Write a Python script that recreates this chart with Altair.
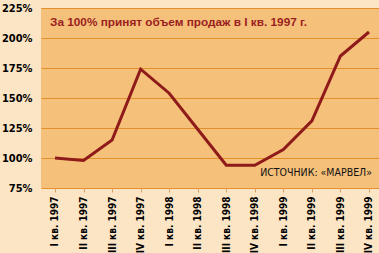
import altair as alt
import pandas as pd

quarters = ["I кв. 1997", "II кв. 1997", "III кв. 1997", "IV кв. 1997",
            "I кв. 1998", "II кв. 1998", "III кв. 1998", "IV кв. 1998",
            "I кв. 1999", "II кв. 1999", "III кв. 1999", "IV кв. 1999"]
values = [100, 98, 115, 174, 154, 124, 94, 94, 107, 131, 185, 205]
y_ticks = [75, 100, 125, 150, 175, 200, 225]
note_text = ["За 100% принят объем продаж в I кв. 1997 г."]
source_text = ["ИСТОЧНИК: «МАРВЕЛ»"]

df = pd.DataFrame({"i": list(range(len(quarters))), "q": quarters, "v": values})

label_expr = "[" + ",".join(f"'{q}'" for q in quarters) + "][datum.value]"

FONT = "Liberation Sans Narrow, DejaVu Sans Condensed, Arial Narrow, sans-serif"

x = alt.X("i:Q", scale=alt.Scale(domain=[-0.49, 11.351], nice=False, zero=False),
          axis=alt.Axis(values=list(range(12)), labelExpr=label_expr, labelAngle=270,
                        labelAlign="right", labelBaseline="middle", labelPadding=4,
                        labelFont=FONT, labelFontSize=10, labelFontWeight="bold",
                        labelColor="#000000", tickColor="#D9A46A", tickSize=4,
                        domain=False, grid=False, title=None, labelOverlap=False))
y = alt.Y("v:Q", scale=alt.Scale(domain=[75, 225], nice=False, zero=False),
          axis=alt.Axis(values=y_ticks, labelExpr="datum.value + '%'",
                        labelFont=FONT, labelFontSize=11, labelFontWeight="bold",
                        labelColor="#000000", labelPadding=9, ticks=False, domain=False,
                        grid=True, gridColor="#E4902A", gridWidth=1, title=None))

line = alt.Chart(df).mark_line(color="#8E1A1A", strokeWidth=3, strokeJoin="miter").encode(x=x, y=y)

title = alt.Chart(pd.DataFrame({"t": note_text})).mark_text(
    align="left", baseline="middle",
    font="Liberation Sans, Arial, sans-serif", fontSize=11.8, fontWeight="bold", color="#9B1E1E"
).encode(text="t:N", x=alt.value(9), y=alt.value(14))

source = alt.Chart(pd.DataFrame({"t": source_text})).mark_text(
    align="right", baseline="middle",
    font=FONT, fontSize=10.5, color="#111111"
).encode(text="t:N", x=alt.value(331), y=alt.value(165))

chart = alt.layer(line, title, source).properties(
    width=338, height=180,
    background="#FCE5C5",
    padding={"left": 41, "top": 8, "right": 0, "bottom": 65},
    autosize=alt.AutoSizeParams(type="none"),
).configure_view(fill="#F5C07A", stroke=None)

chart.save("out.html", embed_options={"renderer": "svg", "actions": False})
